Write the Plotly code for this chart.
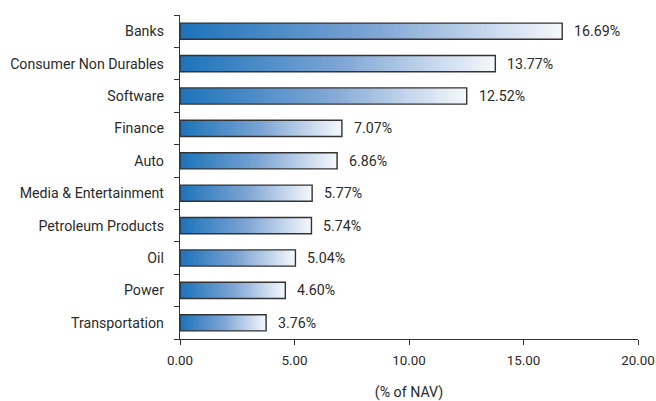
import plotly.graph_objects as go

# Sector allocation (% of NAV)
sectors = [
    "Banks",
    "Consumer Non Durables",
    "Software",
    "Finance",
    "Auto",
    "Media & Entertainment",
    "Petroleum Products",
    "Oil",
    "Power",
    "Transportation",
]
weights = [16.69, 13.77, 12.52, 7.07, 6.86, 5.77, 5.74, 5.04, 4.60, 3.76]
x_ticks = [0, 5, 10, 15, 20]
x_tick_labels = ["0.00", "5.00", "10.00", "15.00", "20.00"]

FONT = "Roboto"
FSIZE = 14.2
TEXT = "#2b2b2b"
BAR_W = 0.5
STEPS = 80

# colour stops of the left-to-right fade inside each bar
stops = [(0.0, (28, 115, 186)), (0.5, (124, 164, 212)), (1.0, (246, 248, 252))]


def fade(t):
    for (t0, c0), (t1, c1) in zip(stops[:-1], stops[1:]):
        if t <= t1:
            f = (t - t0) / (t1 - t0)
            r, g, b = (round(a + (bb - a) * f) for a, bb in zip(c0, c1))
            return f"rgb({r},{g},{b})"
    return "rgb(%d,%d,%d)" % stops[-1][1]


fig = go.Figure()

# gradient fill: each step starts further right and runs to the bar end
for k in range(STEPS):
    t = k / STEPS
    fig.add_trace(go.Bar(
        y=sectors,
        x=[w * (1 - t) for w in weights],
        base=[w * t for w in weights],
        orientation="h",
        width=BAR_W,
        marker=dict(color=fade(t + 0.5 / STEPS), line=dict(width=0)),
        hoverinfo="skip",
        showlegend=False,
    ))

# outline of each bar
fig.add_trace(go.Bar(
    y=sectors,
    x=weights,
    base=[0] * len(weights),
    orientation="h",
    width=BAR_W,
    marker=dict(color="rgba(0,0,0,0)", line=dict(color="#333333", width=1.4)),
    showlegend=False,
))

for s, w in zip(sectors, weights):
    fig.add_annotation(
        x=w, y=s, text=f"{w:.2f}%", showarrow=False,
        xanchor="left", xshift=10,
        font=dict(family=FONT, size=FSIZE, color=TEXT),
    )

fig.update_layout(
    width=656, height=401,
    margin=dict(l=180, r=18, t=15, b=62),
    paper_bgcolor="white", plot_bgcolor="white",
    barmode="overlay",
    bargap=0.5,
    font=dict(family=FONT, size=FSIZE, color=TEXT),
)
fig.update_xaxes(
    range=[0, 20],
    tickvals=x_ticks, ticktext=x_tick_labels,
    tickfont=dict(family=FONT, size=13.4, color=TEXT),
    showgrid=False, zeroline=False,
    showline=True, linecolor="#333333", linewidth=1.4,
    ticks="outside", ticklen=5, tickcolor="#333333", tickwidth=1.4,
    ticklabelstandoff=4,
    ticklabeloverflow="allow",
    automargin=False,
    title=dict(text="(% of NAV)", standoff=24, font=dict(family=FONT, size=FSIZE, color=TEXT)),
)
fig.update_yaxes(
    categoryorder="array", categoryarray=sectors[::-1],
    showgrid=False, zeroline=False,
    showline=True, linecolor="#333333", linewidth=1.4,
    ticks="outside", ticklen=5, tickcolor="#333333", tickwidth=1.4,
    tickson="boundaries",
    ticklabelstandoff=12,
    automargin=False,
)

fig.write_html("out.html")
